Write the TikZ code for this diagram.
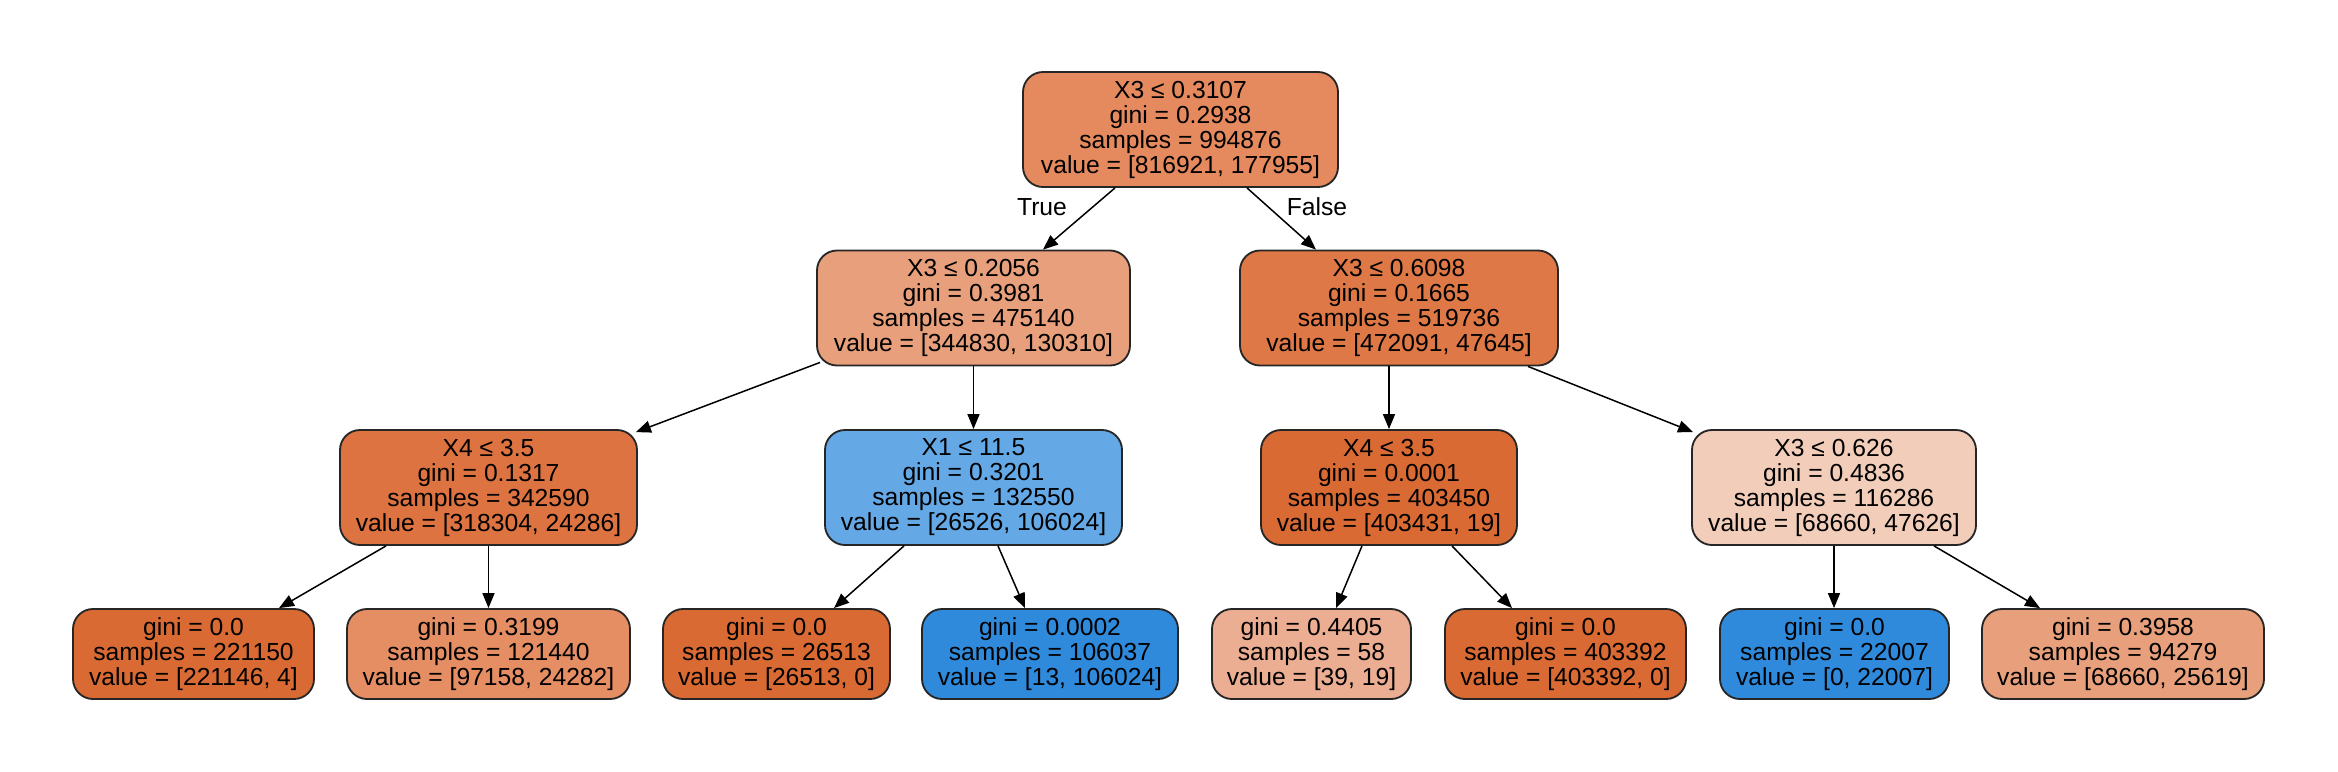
\documentclass[tikz,border=0pt]{standalone}
\usepackage{fontspec}
\setmainfont{Liberation Sans}
\usetikzlibrary{arrows.meta,calc}
\definecolor{cRoot}{HTML}{E58A5F}
\definecolor{cLa}{HTML}{E8A07C}
\definecolor{cLb}{HTML}{DE7846}
\definecolor{cTa}{HTML}{DD7341}
\definecolor{cBl}{HTML}{64A8E6}
\definecolor{cOr}{HTML}{DA6A34}
\definecolor{cPa}{HTML}{F2CEBA}
\definecolor{cMd}{HTML}{E68E63}
\definecolor{cBd}{HTML}{308ADC}
\definecolor{cLt}{HTML}{ECAE92}
\tikzset{
  tnode/.style={draw=black!85, line width=0.55pt, rounded corners=6pt, align=center,
    inner sep=0pt, font=\fontsize{7.4}{7.5}\selectfont, minimum height=34.5pt},
  leaf/.style={tnode, minimum height=27pt},
  edge/.style={line width=0.45pt, -{Triangle[length=4.5pt,width=3.6pt]}},
  elabel/.style={font=\fontsize{7.4}{7.5}\selectfont, inner sep=0pt}
}
\begin{document}
\begin{tikzpicture}[x=0.3pt,y=-0.3pt]
\useasboundingbox (0,0) rectangle (2338,771);
% level 0
\node[tnode, fill=cRoot, minimum width=94.5pt] (root) at (1180.5,129.5)
  {X3 ≤ 0.3107\\gini = 0.2938\\samples = 994876\\value = [816921, 177955]};
% level 1
\node[tnode, fill=cLa, minimum width=93.9pt] (la) at (973.5,308)
  {X3 ≤ 0.2056\\gini = 0.3981\\samples = 475140\\value = [344830, 130310]};
\node[tnode, fill=cLb, minimum width=95.4pt] (lb) at (1399,308)
  {X3 ≤ 0.6098\\gini = 0.1665\\samples = 519736\\value = [472091, 47645]};
% level 2
\node[tnode, fill=cTa, minimum width=89.1pt] (ma) at (488.5,487.5)
  {X4 ≤ 3.5\\gini = 0.1317\\samples = 342590\\value = [318304, 24286]};
\node[tnode, fill=cBl, minimum width=89.1pt] (mb) at (973.5,487.5)
  {X1 ≤ 11.5\\gini = 0.3201\\samples = 132550\\value = [26526, 106024]};
\node[tnode, fill=cOr, minimum width=76.8pt] (mc) at (1389,487.5)
  {X4 ≤ 3.5\\gini = 0.0001\\samples = 403450\\value = [403431, 19]};
\node[tnode, fill=cPa, minimum width=85.2pt] (md) at (1834,487.5)
  {X3 ≤ 0.626\\gini = 0.4836\\samples = 116286\\value = [68660, 47626]};
% level 3
\node[leaf, fill=cOr, minimum width=72.3pt] (fa) at (193.5,654)
  {gini = 0.0\\samples = 221150\\value = [221146, 4]};
\node[leaf, fill=cMd, minimum width=84.9pt] (fb) at (488.5,654)
  {gini = 0.3199\\samples = 121440\\value = [97158, 24282]};
\node[leaf, fill=cOr, minimum width=68.1pt] (fc) at (776.5,654)
  {gini = 0.0\\samples = 26513\\value = [26513, 0]};
\node[leaf, fill=cBd, minimum width=76.8pt] (fd) at (1050,654)
  {gini = 0.0002\\samples = 106037\\value = [13, 106024]};
\node[leaf, fill=cLt, minimum width=59.7pt] (fe) at (1311.5,654)
  {gini = 0.4405\\samples = 58\\value = [39, 19]};
\node[leaf, fill=cOr, minimum width=72.3pt] (ff) at (1565.5,654)
  {gini = 0.0\\samples = 403392\\value = [403392, 0]};
\node[leaf, fill=cBd, minimum width=68.7pt] (fg) at (1834.5,654)
  {gini = 0.0\\samples = 22007\\value = [0, 22007]};
\node[leaf, fill=cLa, minimum width=84.6pt] (fh) at (2123,654)
  {gini = 0.3958\\samples = 94279\\value = [68660, 25619]};
% edges
\draw[edge] ($(root.south)+(-65.5,0)$) -- ($(la.north)+(69.5,0)$);
\draw[edge] ($(root.south)+(66.5,0)$) -- ($(lb.north)+(-83,0)$);
\node[elabel] (tl) at (1042,207) {True};
\node[elabel] (fl) at (1317,207) {False};
\draw[edge] ($(la.south west)+(4,-4)$) -- ($(ma.north east)+(-2,3)$);
\draw[edge] (la.south) -- (mb.north);
\draw[edge] ($(lb.south)+(-10,0)$) -- (mc.north);
\draw[edge] ($(lb.south)+(129,0)$) -- ($(md.north west)+(2,3)$);
\draw[edge] ($(ma.south)+(-102.5,0)$) -- ($(fa.north)+(85.5,0)$);
\draw[edge] (ma.south) -- (fb.north);
\draw[edge] ($(mb.south)+(-69.5,0)$) -- ($(fc.north)+(57.5,0)$);
\draw[edge] ($(mb.south)+(24.5,0)$) -- ($(fd.north)+(-25,0)$);
\draw[edge] ($(mc.south)+(-27,0)$) -- ($(fe.north)+(24.5,0)$);
\draw[edge] ($(mc.south)+(63,0)$) -- ($(ff.north)+(-53.5,0)$);
\draw[edge] (md.south) -- (md.south |- fg.north);
\draw[edge] ($(md.south)+(100,0)$) -- ($(fh.north)+(-83,0)$);
\end{tikzpicture}
\end{document}
